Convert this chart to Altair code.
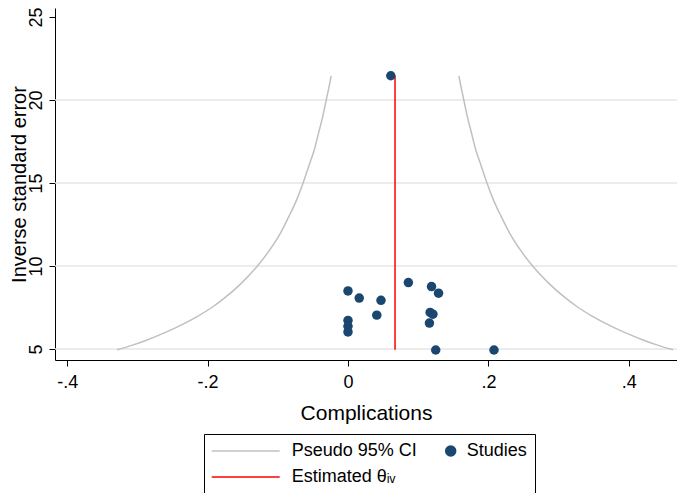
import altair as alt
import pandas as pd

# ---- data ----
study_x = [0.000, 0.016, 0.047, 0.041, 0.000, 0.000, 0.000, 0.086, 0.119,
           0.129, 0.117, 0.121, 0.116, 0.125, 0.208, 0.061]
study_y = [8.50, 8.07, 7.93, 7.04, 6.72, 6.37, 6.03, 9.00, 8.76,
           8.36, 7.20, 7.10, 6.56, 4.94, 4.94, 21.46]

ci_y = [4.95, 5.25, 5.5, 6, 6.5, 7, 7.5, 8, 9, 10, 11, 12, 13, 14, 15, 16,
        17, 18, 19, 20, 21, 21.46]
ci_lower = [-0.329, -0.306, -0.289, -0.260, -0.235, -0.213, -0.194, -0.178,
            -0.151, -0.129, -0.111, -0.096, -0.084, -0.073, -0.064, -0.056,
            -0.048, -0.042, -0.036, -0.031, -0.026, -0.024]
ci_upper = [0.463, 0.440, 0.423, 0.394, 0.369, 0.347, 0.328, 0.312, 0.285,
            0.263, 0.245, 0.230, 0.218, 0.207, 0.198, 0.190, 0.182, 0.176,
            0.170, 0.165, 0.160, 0.158]

theta = [0.067]
theta_y_low = [4.95]
theta_y_high = [21.46]

grid_y = [5, 10, 15, 20]
y_ticks = [5, 10, 15, 20, 25]
x_ticks = [-0.4, -0.2, 0, 0.2, 0.4]

series_names = ["Pseudo 95% CI", "Studies", "Estimated θᵢᵥ"]
series_colors = ["#c0c0c0", "#1a476f", "#ff0000"]

# ---- tables ----
ci_df = pd.DataFrame({
    "x": ci_lower + ci_upper,
    "y": ci_y + ci_y,
    "side": ["lower"] * len(ci_y) + ["upper"] * len(ci_y),
    "series": series_names[0],
})
study_df = pd.DataFrame({"x": study_x, "y": study_y, "series": series_names[1]})
theta_df = pd.DataFrame({"x": theta, "y": theta_y_low, "y2": theta_y_high,
                         "series": series_names[2]})
grid_df = pd.DataFrame({"y": grid_y})

FONT = "Liberation Sans"

xscale = alt.Scale(domain=[-0.4174, 0.4687], nice=False, zero=False)
yscale = alt.Scale(domain=[4.337, 25.542], nice=False, zero=False)

xaxis = alt.Axis(values=x_ticks, grid=False, title="Complications",
                 labelExpr="(datum.value < 0 ? '-' : '') + (datum.value == 0 ? '0' : '.' + round(abs(datum.value) * 10))",
                 tickSize=6, labelPadding=7, titlePadding=11)
yaxis = alt.Axis(values=y_ticks, grid=False, title="Inverse standard error",
                 format="d", labelAngle=270, labelAlign="center",
                 labelBaseline="bottom", tickSize=6, labelPadding=4,
                 titleBaseline="alphabetic", titlePadding=2, titleFontSize=20)

# legend symbols: a long line for the line series, an offset dot for studies
line_path = "M-8.43,0H5.90"
dot_path = "M4.006,0A1.054,1.054,0,1,1,6.114,0A1.054,1.054,0,1,1,4.006,0Z"
sym_shape = f"datum.value === 'Studies' ? '{dot_path}' : '{line_path}'"
sym_fill = "datum.value === 'Studies' ? '#1a476f' : 'transparent'"
sym_stroke = ("datum.value === 'Studies' ? '#1a476f' : "
              "(datum.value === 'Pseudo 95% CI' ? '#c0c0c0' : '#ff0000')")

legend = alt.Legend(
    orient="none", legendX=149, legendY=426, columns=2, direction="horizontal",
    title=" ", titleOrient="left", titleFontSize=1, titlePadding=30.7,
    padding=8, strokeColor="black", fillColor="white",
    labelFontSize=18, labelFont=FONT, labelColor="black", labelLimit=400,
    symbolSize=90, labelOffset=31, columnPadding=0, rowPadding=8,
    symbolType=alt.ExprRef(sym_shape),
    symbolFillColor=alt.ExprRef(sym_fill),
    symbolStrokeColor=alt.ExprRef(sym_stroke),
    symbolStrokeWidth=1.5, symbolOpacity=1,
)

color = alt.Color("series:N",
                  scale=alt.Scale(domain=series_names, range=series_colors),
                  legend=legend)

grid = alt.Chart(grid_df).mark_rule(color="#e6e6e6", strokeWidth=1.5).encode(
    y=alt.Y("y:Q", scale=yscale, axis=yaxis),
)

ci = alt.Chart(ci_df).mark_line(strokeWidth=1.5, interpolate="monotone").encode(
    x=alt.X("x:Q", scale=xscale, axis=xaxis),
    y=alt.Y("y:Q", scale=yscale, axis=yaxis),
    detail="side:N",
    color=color,
)

rule = alt.Chart(theta_df).mark_rule(strokeWidth=1.5).encode(
    x=alt.X("x:Q", scale=xscale, axis=xaxis),
    y=alt.Y("y:Q", scale=yscale, axis=yaxis),
    y2="y2:Q",
    color=color,
)

pts = alt.Chart(study_df).mark_circle(size=90, opacity=1).encode(
    x=alt.X("x:Q", scale=xscale, axis=xaxis),
    y=alt.Y("y:Q", scale=yscale, axis=yaxis),
    color=color,
)

chart = alt.layer(grid, ci, rule, pts).properties(
    width=622, height=352,
    autosize=alt.AutoSizeParams(type="none"),
    padding={"left": 47, "top": 0, "right": 0, "bottom": 133},
    background="white",
).configure_view(stroke=None).configure_axis(
    labelFont=FONT, titleFont=FONT, labelFontSize=18, titleFontSize=21,
    labelColor="black", titleColor="black", titleFontWeight="normal",
    domainColor="black", tickColor="black", domainWidth=1, tickWidth=1,
)

chart.save("out.html", embed_options={"renderer": "svg", "actions": False})
